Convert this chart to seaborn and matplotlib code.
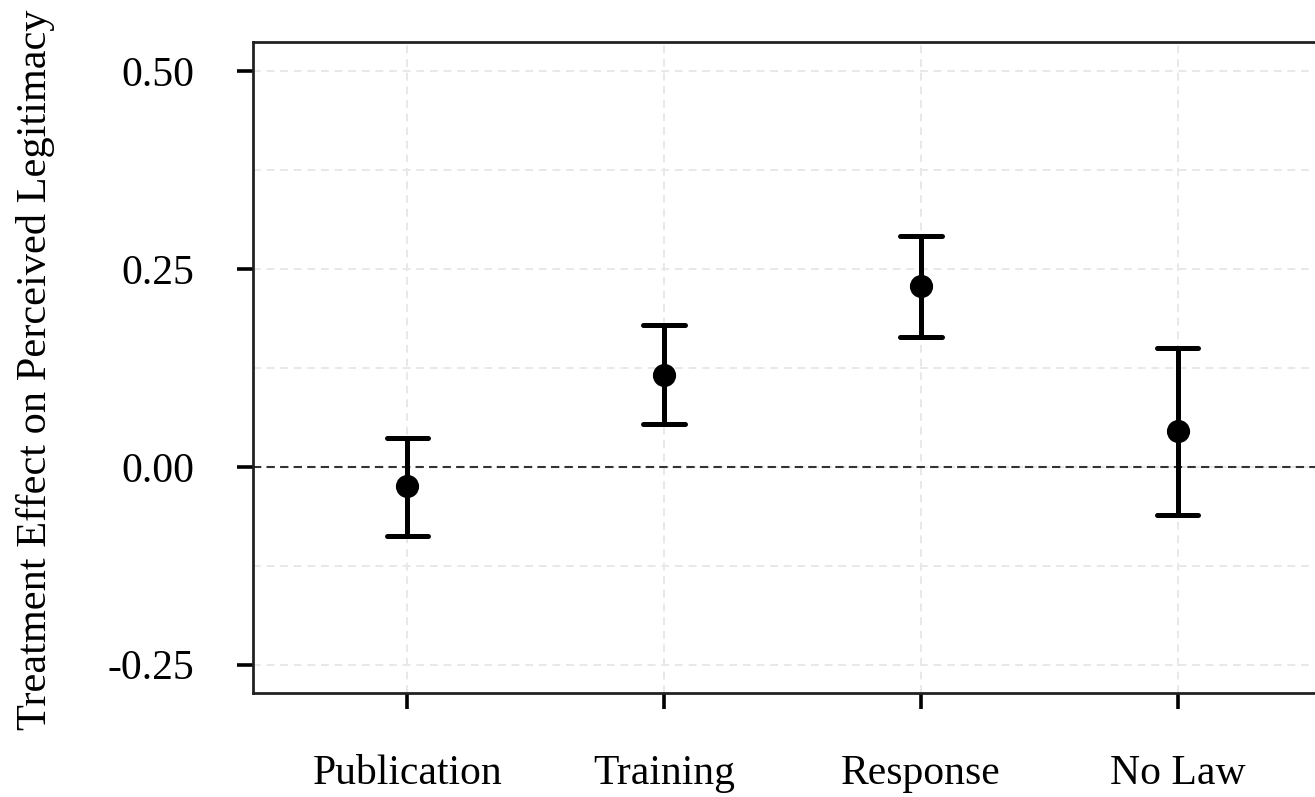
import numpy as np
import pandas as pd
import matplotlib
matplotlib.use("Agg")
import matplotlib.pyplot as plt
from matplotlib.ticker import MultipleLocator
import seaborn as sns

# Estimates and 95% intervals
conditions = ["Publication", "Training", "Response", "No Law"]
estimate = [-0.024, 0.116, 0.228, 0.045]
lower = [-0.087, 0.054, 0.164, -0.061]
upper = [0.037, 0.179, 0.292, 0.150]

# long form: median of (lo, est, hi) = est, full range = interval
df = pd.DataFrame({
    "cond": np.repeat(conditions, 3),
    "val": np.ravel(np.column_stack([lower, estimate, upper])),
})

sns.set_theme(style="white")
plt.rcParams["font.family"] = ["Liberation Serif", "DejaVu Serif"]
plt.rcParams["text.color"] = "black"
plt.rcParams["axes.labelcolor"] = "black"
plt.rcParams["xtick.color"] = "black"
plt.rcParams["ytick.color"] = "black"

fig = plt.figure(figsize=(13.15, 7.97), dpi=100)
W, H = 1315, 797
ax = fig.add_axes([253 / W, 1 - 693 / H, (1332 - 253) / W, (693 - 42) / H])

sns.pointplot(data=df, x="cond", y="val", order=conditions,
              estimator="median", errorbar=("pi", 100),
              color="black", linestyle="none", markers="o",
              markersize=14, capsize=0.16, linewidth=3.6,
              err_kws={"linewidth": 3.6}, ax=ax)

ax.axhline(0, color="#333333", linestyle=(0, (4, 2.5)), linewidth=1.5, zorder=1.5)

ax.set_xlim(-0.6, 3.6)
ax.set_ylim(-0.286, 0.537)
ax.yaxis.set_major_locator(MultipleLocator(0.25))
ax.yaxis.set_minor_locator(MultipleLocator(0.125))
ax.set_yticks([-0.25, 0.0, 0.25, 0.5])
ax.set_yticklabels(["-0.25", "0.00", "0.25", "0.50"])

ax.grid(True, which="both", color="#e8e8e8", linestyle=(0, (4, 3)), linewidth=1.4)
ax.set_axisbelow(True)

for s in ax.spines.values():
    s.set_color("#222222")
    s.set_linewidth(2.0)

ax.tick_params(axis="both", which="major", direction="out", length=11.5,
               width=2.6, color="black", labelsize=30, labelcolor="black",
               bottom=True, left=True)
ax.tick_params(axis="y", pad=31)
ax.tick_params(axis="x", pad=33)
ax.tick_params(axis="both", which="minor", length=0, bottom=False, left=False)

ax.set_xlabel("")
ax.set_ylabel("Treatment Effect on Perceived Legitimacy", fontsize=30.5)
ax.yaxis.set_label_coords(-0.1835, 0.497)

fig.savefig("out.png", dpi=100)
